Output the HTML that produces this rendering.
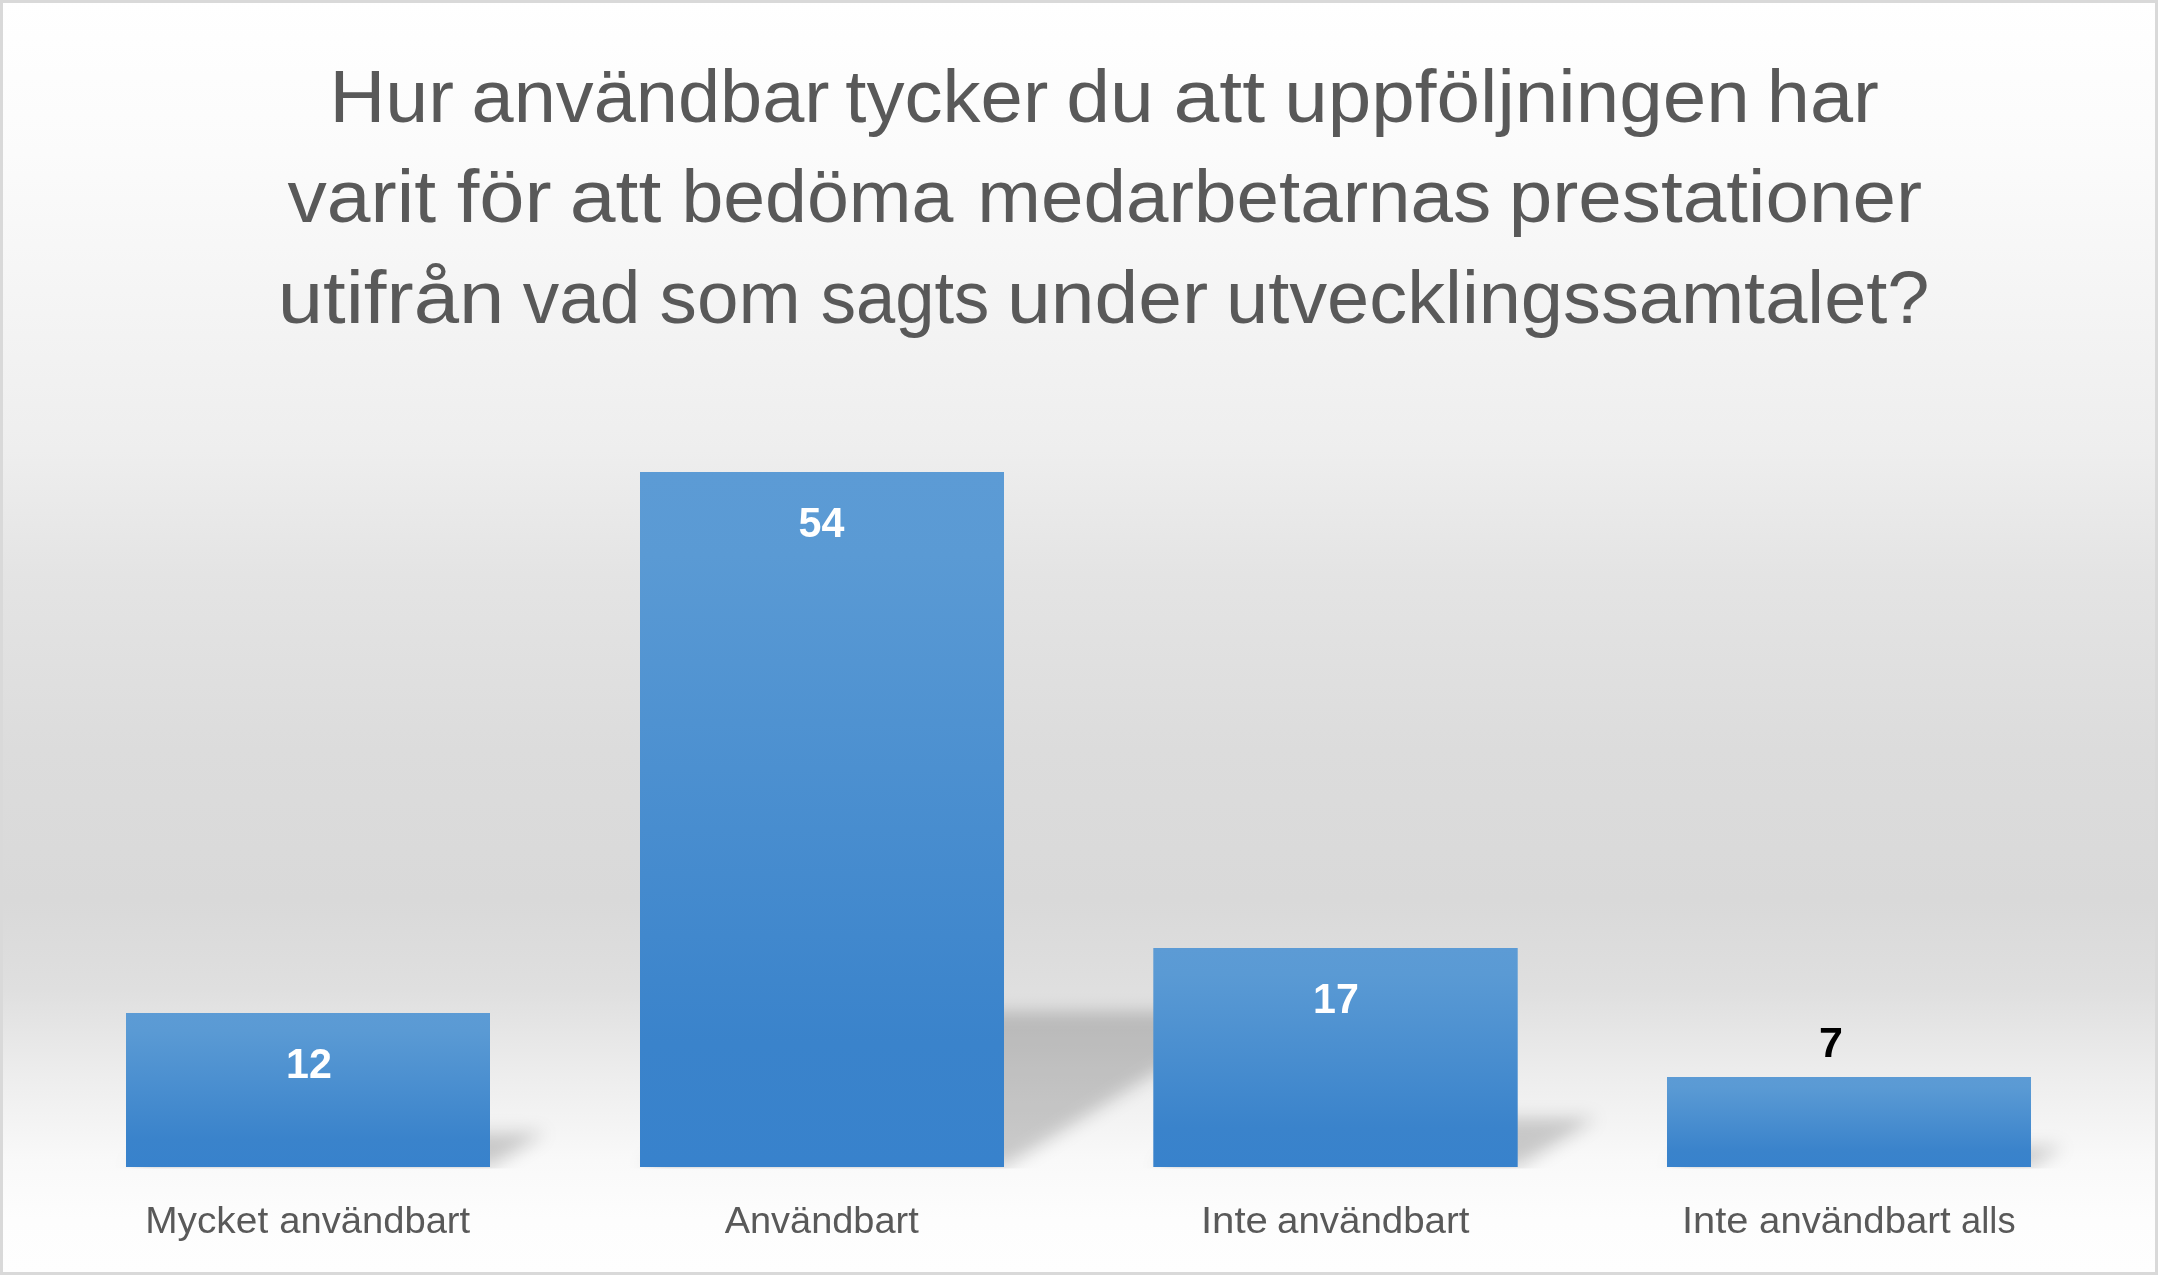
<!DOCTYPE html>
<html><head><meta charset="utf-8">
<style>
html,body{margin:0;padding:0;width:2158px;height:1275px;overflow:hidden;background:#fff}
svg{display:block}
text{font-family:"Liberation Sans",sans-serif}
</style></head>
<body>
<svg width="2158" height="1275" viewBox="0 0 2158 1275">
<defs>
<linearGradient id="bg" x1="0" y1="0" x2="0" y2="1275" gradientUnits="userSpaceOnUse">
<stop offset="0" stop-color="#ffffff"/>
<stop offset="0.12" stop-color="#fbfbfb"/>
<stop offset="0.353" stop-color="#eeeeee"/>
<stop offset="0.45" stop-color="#e4e4e4"/>
<stop offset="0.588" stop-color="#dcdcdc"/>
<stop offset="0.706" stop-color="#d9d9d9"/>
<stop offset="0.776" stop-color="#dfdfdf"/>
<stop offset="0.843" stop-color="#ededed"/>
<stop offset="0.91" stop-color="#f9f9f9"/>
<stop offset="0.957" stop-color="#fdfdfd"/>
<stop offset="1" stop-color="#fefefe"/>
</linearGradient>
<linearGradient id="bar" x1="0" y1="0" x2="0" y2="1">
<stop offset="0" stop-color="#5c9bd5"/>
<stop offset="0.12" stop-color="#5a9ad4"/>
<stop offset="0.82" stop-color="#3a83cb"/>
<stop offset="1" stop-color="#3882cc"/>
</linearGradient>
<clipPath id="shclip"><rect x="0" y="0" width="2158" height="1168.5"/></clipPath>
<filter id="blur" x="-50%" y="-50%" width="200%" height="200%"><feGaussianBlur stdDeviation="8.5"/></filter>
</defs>
<rect x="0" y="0" width="2158" height="1275" fill="#d9d9d9"/>
<rect x="3" y="3" width="2152" height="1269" fill="url(#bg)"/>
<g clip-path="url(#shclip)"><g filter="url(#blur)" fill="#000" fill-opacity="0.19">
<polygon points="126,1167 490,1167 545.44,1132.5 181.44,1132.5"/>
<polygon points="640,1167 1004,1167 1254.2,1011.32 890.2,1011.32"/>
<polygon points="1153.3,1167 1517.7,1167 1596.54,1117.94 1232.14,1117.94"/>
<polygon points="1667,1167 2031,1167 2063.4,1146.84 1699.4,1146.84"/>
</g></g>
<rect x="126" y="1013" width="364" height="154" fill="url(#bar)"/>
<rect x="640" y="472" width="364" height="695" fill="url(#bar)"/>
<rect x="1153.3" y="948" width="364.4" height="219" fill="url(#bar)"/>
<rect x="1667" y="1077" width="364" height="90" fill="url(#bar)"/>
<g fill="#595959" font-size="75">
<text id="t1_0" x="329.5" y="122" textLength="124.5" lengthAdjust="spacingAndGlyphs">Hur</text>
<text id="t1_1" x="471.6" y="122" textLength="358" lengthAdjust="spacingAndGlyphs">användbar</text>
<text id="t1_2" x="845.3" y="122" textLength="203" lengthAdjust="spacingAndGlyphs">tycker</text>
<text id="t1_3" x="1066.2" y="122" textLength="87.5" lengthAdjust="spacingAndGlyphs">du</text>
<text id="t1_4" x="1173.6" y="122" textLength="91.5" lengthAdjust="spacingAndGlyphs">att</text>
<text id="t1_5" x="1284.3" y="122" textLength="465.5" lengthAdjust="spacingAndGlyphs">uppföljningen</text>
<text id="t1_6" x="1766.8" y="122" textLength="112" lengthAdjust="spacingAndGlyphs">har</text>
<text id="t2_0" x="287.5" y="222.3" textLength="148.5" lengthAdjust="spacingAndGlyphs">varit</text>
<text id="t2_1" x="456.7" y="222.3" textLength="95" lengthAdjust="spacingAndGlyphs">för</text>
<text id="t2_2" x="569.8" y="222.3" textLength="91.5" lengthAdjust="spacingAndGlyphs">att</text>
<text id="t2_3" x="681.4" y="222.3" textLength="272" lengthAdjust="spacingAndGlyphs">bedöma</text>
<text id="t2_4" x="977.3" y="222.3" textLength="514" lengthAdjust="spacingAndGlyphs">medarbetarnas</text>
<text id="t2_5" x="1508.7" y="222.3" textLength="413.5" lengthAdjust="spacingAndGlyphs">prestationer</text>
<text id="t3_0" x="277.8" y="322.7" textLength="226.5" lengthAdjust="spacingAndGlyphs">utifrån</text>
<text id="t3_1" x="522.8" y="322.7" textLength="117.5" lengthAdjust="spacingAndGlyphs">vad</text>
<text id="t3_2" x="659.6" y="322.7" textLength="141" lengthAdjust="spacingAndGlyphs">som</text>
<text id="t3_3" x="820.8" y="322.7" textLength="168.5" lengthAdjust="spacingAndGlyphs">sagts</text>
<text id="t3_4" x="1007.1" y="322.7" textLength="201" lengthAdjust="spacingAndGlyphs">under</text>
<text id="t3_5" x="1226" y="322.7" textLength="703.5" lengthAdjust="spacingAndGlyphs">utvecklingssamtalet?</text>
</g>
<g fill="#595959" font-size="37" opacity="0.999">
<text id="l1_0" x="145.2" y="1232.6" textLength="123" lengthAdjust="spacingAndGlyphs">Mycket</text>
<text id="l1_1" x="279.2" y="1232.6" textLength="191" lengthAdjust="spacingAndGlyphs">användbart</text>
<text id="l2_0" x="724.7" y="1232.6" textLength="194" lengthAdjust="spacingAndGlyphs">Användbart</text>
<text id="l3_0" x="1200.9" y="1232.6" textLength="67" lengthAdjust="spacingAndGlyphs">Inte</text>
<text id="l3_1" x="1277" y="1232.6" textLength="192.5" lengthAdjust="spacingAndGlyphs">användbart</text>
<text id="l4_0" x="1682" y="1232.6" textLength="66.5" lengthAdjust="spacingAndGlyphs">Inte</text>
<text id="l4_1" x="1759.1" y="1232.6" textLength="191.5" lengthAdjust="spacingAndGlyphs">användbart</text>
<text id="l4_2" x="1961.1" y="1232.6" textLength="54.5" lengthAdjust="spacingAndGlyphs">alls</text>
</g>
<g font-size="43" font-weight="bold" opacity="0.999">
<text id="d1" x="286.08" y="1077.5" textLength="45.84" lengthAdjust="spacingAndGlyphs" fill="#fff">12</text>
<text id="d2" x="798.58" y="536.9" textLength="45.84" lengthAdjust="spacingAndGlyphs" fill="#fff">54</text>
<text id="d3" x="1313.08" y="1013.1" textLength="45.84" lengthAdjust="spacingAndGlyphs" fill="#fff">17</text>
<text id="d4" x="1819.04" y="1056.8" textLength="23.92" lengthAdjust="spacingAndGlyphs" fill="#000">7</text>
</g>
</svg>
</body></html>
